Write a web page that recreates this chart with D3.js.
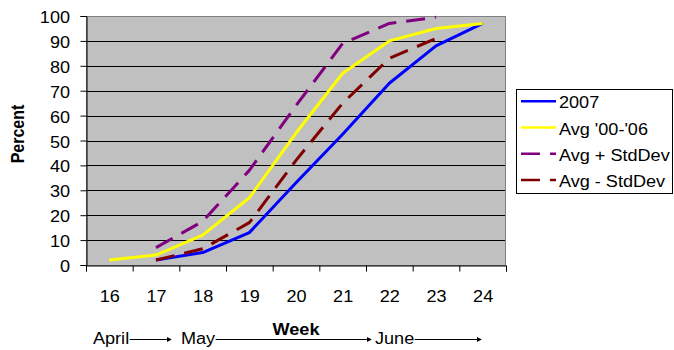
<!DOCTYPE html>
<html>
<head>
<meta charset="utf-8">
<script src="https://cdn.jsdelivr.net/npm/d3@7"></script>
<style>
html,body{margin:0;padding:0;background:#fff;}
svg{display:block;font-family:"Liberation Sans",Arial,sans-serif;}
</style>
</head>
<body>
<svg id="chart" width="674" height="350"></svg>
<script>
const weeks = [16, 17, 18, 19, 20, 21, 22, 23, 24];
const y2007 = [null, 2, 5, 13, 33, 52.5, 73, 88, 97];
const avg = [2, 4, 12, 27, 53, 77, 90, 95, 97];
const avgPlus = [null, 7, 17.5, 38, 64, 89, 97, 99.5, null];
const avgMinus = [null, 2, 6.5, 17, 42, 65, 83, 91, null];
const yTicks = [0, 10, 20, 30, 40, 50, 60, 70, 80, 90, 100];
const seriesNames = ["2007", "Avg '00-'06", "Avg + StdDev", "Avg - StdDev"];
const seriesColors = ["#0000FF", "#FFFF00", "#800080", "#800000"];
const seriesDash = [null, null, "19,10", "19,10"];
const months = ["April", "May", "June"];

const SX = 1.13; // horizontal text stretch
const svg = d3.select("#chart");
const L = 86, R = 506, T = 16, B = 265;

const x = d3.scaleLinear().domain([15.5, 24.5]).range([L, R]);
const y = d3.scaleLinear().domain([0, 100]).range([B, T]);

// plot background
svg.append("rect").attr("x", L).attr("y", T).attr("width", R - L).attr("height", B - T)
  .attr("fill", "#C0C0C0");

// gridlines
svg.append("g").selectAll("line").data(yTicks.filter(d => d > 0 && d < 100)).join("line")
  .attr("x1", L).attr("x2", R).attr("y1", d => Math.round(y(d)) + 0.5).attr("y2", d => Math.round(y(d)) + 0.5)
  .attr("stroke", "#000").attr("stroke-width", 1);

// plot border
svg.append("rect").attr("x", L + 0.5).attr("y", T + 0.5).attr("width", R - L - 1).attr("height", B - T)
  .attr("fill", "none").attr("stroke", "#808080").attr("stroke-width", 1);

// left axis
const yAxis = svg.append("g").attr("transform", `translate(${L + 0.5},0)`)
  .call(d3.axisLeft(y).tickValues(yTicks).tickSize(6).tickPadding(0).tickFormat(d3.format("d")));
yAxis.select(".domain").attr("stroke", "#000");
yAxis.selectAll(".tick line").attr("stroke", "#000");
yAxis.selectAll(".tick text")
  .attr("x", -16.5 / SX).attr("dy", null).attr("y", 6.5)
  .attr("transform", `scale(${SX},1)`)
  .attr("font-size", 16).attr("fill", "#000")
  .attr("font-family", "Liberation Sans, Arial, sans-serif");

// bottom axis: tick marks at band boundaries
const bounds = d3.range(15.5, 25, 1);
const xAxisTicks = svg.append("g").attr("transform", `translate(0,${B + 0.5})`)
  .call(d3.axisBottom(x).tickValues(bounds).tickSize(6).tickFormat(""));
xAxisTicks.select(".domain").attr("stroke", "#000");
xAxisTicks.selectAll(".tick line").attr("stroke", "#000");

// bottom axis labels
const xLabels = svg.append("g").attr("transform", `translate(0,${B})`)
  .call(d3.axisBottom(x).tickValues(weeks).tickSize(0).tickFormat(d3.format("d")));
xLabels.select(".domain").remove();
xLabels.selectAll(".tick text")
  .attr("y", 37).attr("dy", null)
  .attr("transform", `scale(${SX},1)`)
  .attr("font-size", 16).attr("fill", "#000")
  .attr("font-family", "Liberation Sans, Arial, sans-serif");
// fix positioning since scaling moves x of tick groups? (tick groups translate; text x=0 so fine)

// lines
const allSeries = [y2007, avg, avgPlus, avgMinus];
const line = d3.line()
  .defined(d => d.v !== null)
  .x(d => x(d.w))
  .y(d => y(d.v));
allSeries.forEach((s, i) => {
  svg.append("path")
    .datum(weeks.map((w, j) => ({ w: w, v: s[j] })))
    .attr("d", line)
    .attr("fill", "none")
    .attr("stroke", seriesColors[i])
    .attr("stroke-width", 3)
    .attr("stroke-linejoin", "round")
    .attr("stroke-dasharray", seriesDash[i]);
});
// redraw order: Excel draws series in order; keep as is.

// axis titles
svg.append("text")
  .attr("transform", `translate(24,134) scale(${SX},1) rotate(-90)`)
  .attr("text-anchor", "middle").attr("font-size", 16).attr("font-weight", "bold")
  .text("Percent");
svg.append("text")
  .attr("transform", `translate(${(L + R) / 2},335) scale(${SX},1)`)
  .attr("text-anchor", "middle").attr("font-size", 16).attr("font-weight", "bold")
  .text("Week");

// month row
svg.append("defs").append("marker")
  .attr("id", "arr").attr("viewBox", "0 0 6 6").attr("refX", 5).attr("refY", 3)
  .attr("markerWidth", 5).attr("markerHeight", 5).attr("orient", "auto")
  .append("path").attr("d", "M0,0 L6,3 L0,6 Z").attr("fill", "#000");
const monthX = [93, 181, 375];
const arrowEnd = [171, 371, 481];
const monthG = svg.append("g");
months.forEach((m, i) => {
  const t = monthG.append("text")
    .attr("transform", `translate(${monthX[i]},344) scale(${SX},1)`)
    .attr("font-size", 16).attr("fill", "#000").text(m);
  const w = t.node().getComputedTextLength() * SX;
  monthG.append("line")
    .attr("x1", monthX[i] + w + 0.5).attr("x2", arrowEnd[i])
    .attr("y1", 339.5).attr("y2", 339.5)
    .attr("stroke", "#000").attr("stroke-width", 1)
    .attr("marker-end", "url(#arr)");
});

// legend
const lg = svg.append("g");
lg.append("rect").attr("x", 516.5).attr("y", 89.5).attr("width", 156).attr("height", 104)
  .attr("fill", "#fff").attr("stroke", "#000").attr("stroke-width", 1);
seriesNames.forEach((n, i) => {
  const base = 108.3 + i * 26.2;
  lg.append("line").attr("x1", 521).attr("x2", 556).attr("y1", base - 7).attr("y2", base - 7)
    .attr("stroke", seriesColors[i]).attr("stroke-width", 2.5)
    .attr("stroke-dasharray", seriesDash[i]);
  lg.append("text")
    .attr("transform", `translate(559,${base}) scale(${SX},1)`)
    .attr("font-size", 16).attr("fill", "#000").text(n);
});
</script>
</body>
</html>
